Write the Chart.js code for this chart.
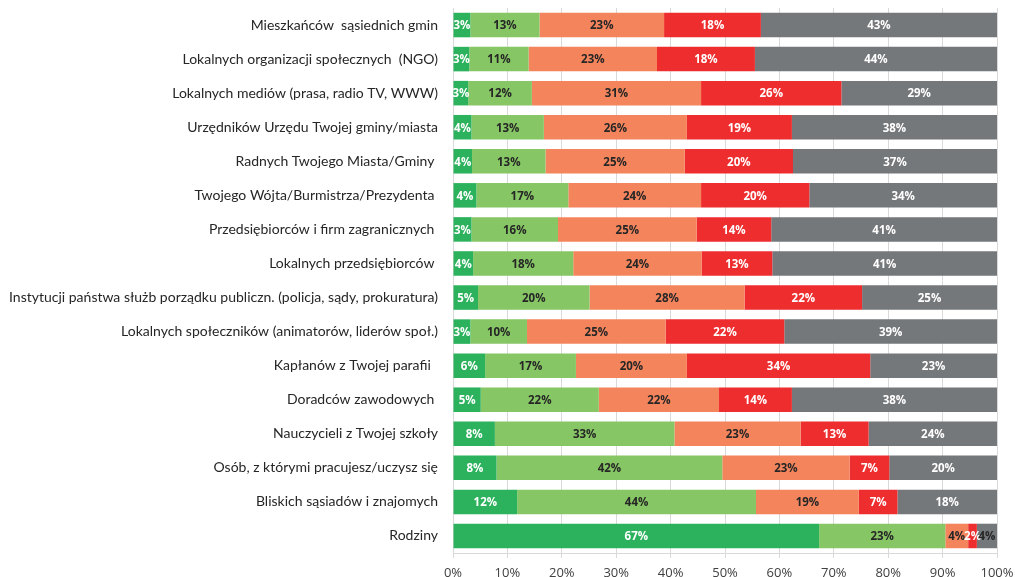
<!DOCTYPE html>
<html>
<head>
<meta charset="utf-8">
<script src="https://cdn.jsdelivr.net/npm/chart.js@4.4.1/dist/chart.umd.min.js"></script>
<style>
  html, body { margin: 0; padding: 0; background: #ffffff; }
  #wrap { width: 1015px; height: 577px; position: relative; }
</style>
</head>
<body>
<div id="wrap"><canvas id="c"></canvas></div>
<script>
const categories = [
  "Mieszkańców  sąsiednich gmin",
  "Lokalnych organizacji społecznych  (NGO)",
  "Lokalnych mediów (prasa, radio TV, WWW)",
  "Urzędników Urzędu Twojej gminy/miasta",
  "Radnych Twojego Miasta/Gminy ",
  "Twojego Wójta/Burmistrza/Prezydenta ",
  "Przedsiębiorców i firm zagranicznych ",
  "Lokalnych przedsiębiorców ",
  "Instytucji państwa służb porządku publiczn. (policja, sądy, prokuratura)",
  "Lokalnych społeczników (animatorów, liderów społ.)",
  "Kapłanów z Twojej parafii  ",
  "Doradców zawodowych ",
  "Nauczycieli z Twojej szkoły",
  "Osób, z którymi pracujesz/uczysz się",
  "Bliskich sąsiadów i znajomych",
  "Rodziny"
];

// estimated shares (%)
const seriesA = [3.2, 3.0, 2.8, 3.4, 3.5, 4.3, 3.4, 3.7, 4.6, 3.2, 5.9, 5.1, 7.7, 8.0, 11.8, 67.3];
const seriesB = [12.7, 10.9, 11.7, 13.3, 13.5, 16.9, 15.9, 18.4, 20.5, 10.4, 16.7, 21.7, 33.0, 41.5, 43.9, 23.2];
const seriesC = [22.9, 23.6, 31.1, 26.3, 25.6, 24.4, 25.5, 23.6, 28.5, 25.5, 20.4, 22.1, 23.2, 23.4, 18.9, 4.2];
const seriesD = [17.8, 18.0, 25.8, 19.3, 19.9, 19.9, 13.7, 13.0, 21.6, 21.8, 33.7, 13.4, 12.5, 7.3, 7.1, 1.6];
const seriesE = [43.4, 44.5, 28.6, 37.7, 37.5, 34.5, 41.5, 41.3, 24.8, 39.1, 23.3, 37.7, 23.6, 19.8, 18.3, 3.7];

// printed labels (%)
const labelsA = [3, 3, 3, 4, 4, 4, 3, 4, 5, 3, 6, 5, 8, 8, 12, 67];
const labelsB = [13, 11, 12, 13, 13, 17, 16, 18, 20, 10, 17, 22, 33, 42, 44, 23];
const labelsC = [23, 23, 31, 26, 25, 24, 25, 24, 28, 25, 20, 22, 23, 23, 19, 4];
const labelsD = [18, 18, 26, 19, 20, 20, 14, 13, 22, 22, 34, 14, 13, 7, 7, 2];
const labelsE = [43, 44, 29, 38, 37, 34, 41, 41, 25, 39, 23, 38, 24, 20, 18, 4];

const xTicks = [0, 10, 20, 30, 40, 50, 60, 70, 80, 90, 100];

const colors = ["#2cb25d", "#86c664", "#f4845c", "#ee2d2f", "#75787b"];
const textColors = ["#ffffff", "#262626", "#262626", "#ffffff", "#ffffff"];
const allSeries = [seriesA, seriesB, seriesC, seriesD, seriesE];
const allLabels = [labelsA, labelsB, labelsC, labelsD, labelsE];

const segLabelPlugin = {
  id: 'segLabels',
  afterDatasetsDraw(chart) {
    const ctx = chart.ctx;
    ctx.save();
    ctx.font = 'bold 11.5px "Open Sans", sans-serif';
    ctx.textAlign = 'center';
    ctx.textBaseline = 'middle';
    chart.data.datasets.forEach((ds, di) => {
      const meta = chart.getDatasetMeta(di);
      meta.data.forEach((el, i) => {
        const p = el.getCenterPoint();
        let col = textColors[di];
        if (di === 4 && allSeries[di][i] < 5) col = '#262626';
        ctx.fillStyle = col;
        ctx.fillText(allLabels[di][i] + '%', p.x, p.y + 1);
      });
    });
    ctx.restore();
  }
};

new Chart(document.getElementById('c'), {
  type: 'bar',
  data: {
    labels: categories,
    datasets: allSeries.map((s, i) => ({
      data: s,
      backgroundColor: colors[i],
      borderWidth: 0,
      barPercentage: 0.9,
      categoryPercentage: 0.8
    }))
  },
  options: {
    indexAxis: 'y',
    responsive: true,
    maintainAspectRatio: false,
    animation: false,
    layout: { padding: { top: 8, right: 18, bottom: 0, left: 0 } },
    plugins: { legend: { display: false }, tooltip: { enabled: false } },
    scales: {
      x: {
        stacked: true,
        min: 0, max: 100,
        afterBuildTicks: (s) => { s.ticks = xTicks.map(v => ({ value: v })); },
        afterFit: (s) => { s.height = 24; s.paddingLeft = 0; s.paddingRight = 0; },
        grid: { color: '#d9d9d9', lineWidth: 1, drawTicks: true, tickLength: 5, tickColor: '#d9d9d9' },
        border: { display: true, color: '#d9d9d9' },
        ticks: {
          color: '#404040',
          font: { family: '"Open Sans", sans-serif', size: 13 },
          padding: 7,
          maxRotation: 0,
          callback: (v) => v + '%'
        }
      },
      y: {
        stacked: true,
        grid: { display: false, drawTicks: false },
        border: { display: false },
        afterFit: (s) => { s.width = 453; s.paddingTop = 0; s.paddingBottom = 0; },
        ticks: {
          color: '#262626',
          font: { family: 'Lato, sans-serif', size: 14 },
          padding: 15,
          autoSkip: false
        }
      }
    }
  },
  plugins: [segLabelPlugin]
});
</script>
</body>
</html>
